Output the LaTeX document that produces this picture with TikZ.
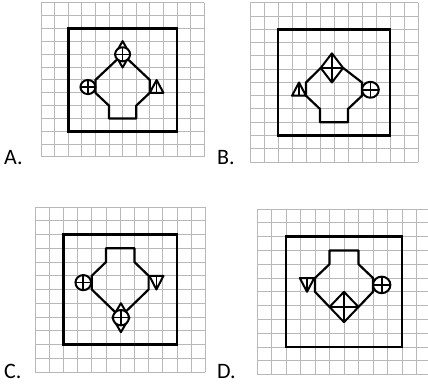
\documentclass[tikz,border=0pt]{standalone}
\usepackage{fontspec}
\setmainfont{Carlito}
\begin{document}
\begin{tikzpicture}[x=1pt,y=-1pt,
    gridline/.style={black!28,line width=1pt},
    frame/.style={line width=2.8pt},
    outline/.style={line width=2.2pt,line join=round},
    symb/.style={line width=2pt,fill=white,line join=round},
    bar/.style={line width=1.6pt},
    lbl/.style={anchor=base west,inner sep=0pt,font=\fontsize{22}{25}\selectfont}]
  \useasboundingbox (0,0) rectangle (428,385);
  \clip (0,0) rectangle (428,385);

  % panel A
  \begin{scope}[shift={(41,3)},x=13.6pt,y=-12.83pt]
    \foreach \i in {0,...,12} {
      \draw[gridline] (\i,0) -- (\i,12);
      \draw[gridline] (0,\i) -- (12,\i);
    }
    \draw[frame] (2,2) rectangle (10,10);
    \draw[outline] (6,4) -- (4,6) -- (4,7) -- (5,8) -- (5,9) -- (7,9) -- (7,8) -- (8,7) -- (8,6) -- cycle;
    \coordinate (dA) at (6,4); \coordinate (cA) at (3.45,6.55);
    \draw[symb] (dA)++(0,-1.03) -- ++(0.55,1.03) -- ++(-0.55,1.03) -- ++(-0.55,-1.03) -- cycle;
    \draw[symb] (dA) circle (0.55);
    \draw[bar] (dA)++(0,-0.55) -- ++(0,1.1); \draw[bar] (dA)++(-0.55,0) -- ++(1.1,0);
    \draw[symb] (cA) circle (0.55);
    \draw[bar] (cA)++(0,-0.55) -- ++(0,1.1); \draw[bar] (cA)++(-0.55,0) -- ++(1.1,0);
    \draw[symb] (8,7) -- (9,7) -- (8.5,6) -- cycle; \draw[bar] (8.5,6) -- (8.5,7);
  \end{scope}

  % panel B
  \begin{scope}[shift={(250,3)},x=14pt,y=-13.25pt]
    \foreach \i in {0,...,12} {
      \draw[gridline] (\i,0) -- (\i,12);
      \draw[gridline] (0,\i) -- (12,\i);
    }
    \draw[frame] (2,2) rectangle (10,10);
    \coordinate (dB) at (5.85,4.9); \coordinate (cB) at (8.6,6.55);
    \draw[outline] (5.05,4.9) -- (4,6) -- (4,7) -- (5,8) -- (5,9) -- (7,9) -- (7,8) -- (8,7) -- (8,6) -- (6.65,4.9);
    \draw[symb] (dB)++(0,-1.1) -- ++(0.8,1.1) -- ++(-0.8,1.1) -- ++(-0.8,-1.1) -- cycle;
    \draw[bar] (dB)++(0,-1.1) -- ++(0,2.2); \draw[bar] (dB)++(-0.8,0) -- ++(1.6,0);
    \draw[symb] (cB) circle (0.6);
    \draw[bar] (cB)++(0,-0.6) -- ++(0,1.2); \draw[bar] (cB)++(-0.6,0) -- ++(1.2,0);
    \draw[symb] (3,7) -- (4,7) -- (3.5,6) -- cycle; \draw[bar] (3.5,6) -- (3.5,7);
  \end{scope}

  % panel C
  \begin{scope}[shift={(35,207)},x=14.2pt,y=-13.75pt]
    \foreach \i in {0,...,12} {
      \draw[gridline] (\i,0) -- (\i,12);
      \draw[gridline] (0,\i) -- (12,\i);
    }
    \draw[frame] (2,2) rectangle (10,10);
    \draw[outline] (6,8) -- (4,6) -- (4,5) -- (5,4) -- (5,3) -- (7,3) -- (7,4) -- (8,5) -- (8,6) -- cycle;
    \coordinate (dC) at (6.05,8.05); \coordinate (cC) at (3.4,5.5);
    \draw[symb] (dC)++(0,-1.05) -- ++(0.6,1.05) -- ++(-0.6,1.05) -- ++(-0.6,-1.05) -- cycle;
    \draw[symb] (dC) circle (0.56);
    \draw[bar] (dC)++(0,-0.56) -- ++(0,1.12); \draw[bar] (dC)++(-0.56,0) -- ++(1.12,0);
    \draw[symb] (cC) circle (0.55);
    \draw[bar] (cC)++(0,-0.55) -- ++(0,1.1); \draw[bar] (cC)++(-0.55,0) -- ++(1.1,0);
    \draw[symb] (8.05,5) -- (9.05,5) -- (8.55,6) -- cycle; \draw[bar] (8.55,5) -- (8.55,6);
  \end{scope}

  % panel D
  \begin{scope}[shift={(257,209)},x=14.5pt,y=-13.8pt]
    \foreach \i in {0,...,12} {
      \draw[gridline] (\i,0) -- (\i,12);
      \draw[gridline] (0,\i) -- (12,\i);
    }
    \draw[frame] (2,2) rectangle (10,10);
    \coordinate (dD) at (6,7.1); \coordinate (cD) at (8.6,5.5);
    \draw[outline] (5,7.1) -- (4,6) -- (4,5) -- (5,4) -- (5,3) -- (7,3) -- (7,4) -- (8,5) -- (8,6) -- (7,7.1);
    \draw[symb] (dD)++(0,-1.1) -- ++(1,1.1) -- ++(-1,1.1) -- ++(-1,-1.1) -- cycle;
    \draw[bar] (dD)++(0,-1.1) -- ++(0,2.2); \draw[bar] (dD)++(-1,0) -- ++(2,0);
    \draw[symb] (cD) circle (0.6);
    \draw[bar] (cD)++(0,-0.6) -- ++(0,1.2); \draw[bar] (cD)++(-0.6,0) -- ++(1.2,0);
    \draw[symb] (2.95,5) -- (3.95,5) -- (3.45,6) -- cycle; \draw[bar] (3.45,5) -- (3.45,6);
  \end{scope}

  \node[lbl] (labA) at (4,164) {A.};
  \node[lbl] (labB) at (217,164) {B.};
  \node[lbl] (labC) at (4,378) {C.};
  \node[lbl] (labD) at (217,378) {D.};
\end{tikzpicture}
\end{document}
